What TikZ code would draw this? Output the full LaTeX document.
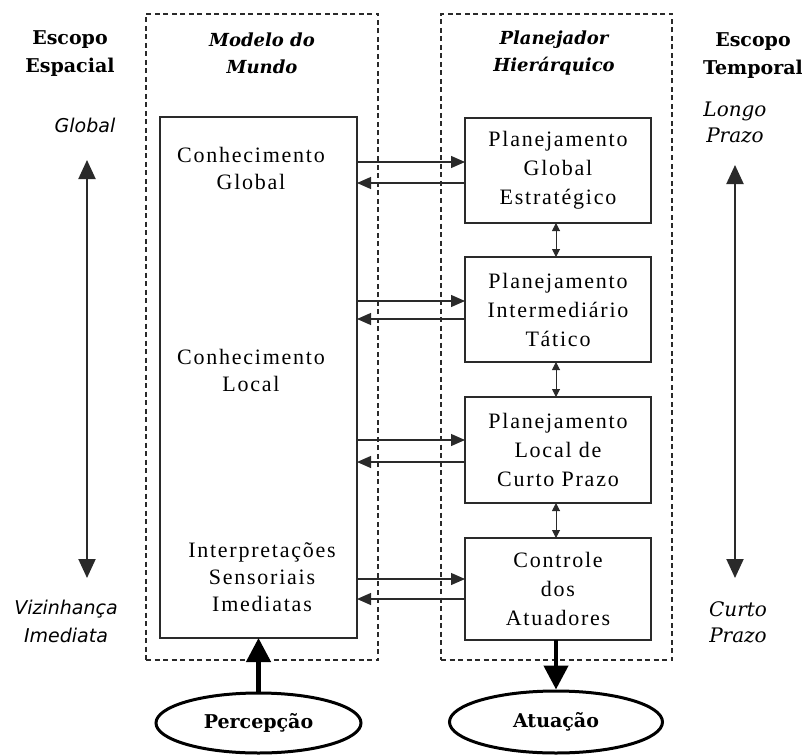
\documentclass[tikz,border=0pt]{standalone}
\usepackage{fontspec}
\setmainfont{Liberation Serif}
\newfontfamily\boxfont[LetterSpace=8]{Liberation Serif}
\newfontfamily\headfont{DejaVu Serif}
\newfontfamily\sidesans{DejaVu Sans}
\newfontfamily\sideserif{DejaVu Serif}
\usetikzlibrary{arrows.meta,shapes.geometric}

\definecolor{ink}{HTML}{2A2A2A}

\tikzset{
  group/.style={draw=ink, line width=1.2pt, dash pattern=on 5pt off 3.5pt,
    inner sep=0pt, outer sep=0pt},
  block/.style={draw=ink, line width=1.3pt, inner sep=0pt, outer sep=0pt,
    align=center, font=\boxfont\fontsize{22}{29}\selectfont},
  inner text/.style={align=center, inner sep=0pt, font=\boxfont\fontsize{22}{27}\selectfont},
  title/.style={align=center, inner sep=0pt,
    font=\headfont\bfseries\itshape\fontsize{18}{27}\selectfont},
  heading/.style={align=center, inner sep=0pt,
    font=\headfont\bfseries\fontsize{19}{28}\selectfont},
  scopesans/.style={align=center, inner sep=0pt,
    font=\sidesans\itshape\fontsize{19}{28}\selectfont},
  scopeserif/.style={align=center, inner sep=0pt,
    font=\sideserif\itshape\fontsize{20}{26}\selectfont},
  io/.style={ellipse, draw=black, line width=3pt, inner sep=0pt,
    font=\headfont\bfseries\fontsize{19}{22}\selectfont},
  link/.style={draw=ink, line width=1.2pt, -{Triangle[width=12pt,length=14pt]}},
  pair/.style={draw=ink, line width=1pt,
    {Triangle[width=8pt,length=8pt]}-{Triangle[width=8pt,length=8pt]}},
  scale arrow/.style={draw=ink, line width=2pt,
    {Triangle[width=17pt,length=19pt]}-{Triangle[width=17pt,length=19pt]}},
  flow/.style={draw=black, line width=4.5pt, -{Triangle[width=24pt,length=24pt]}},
}

\begin{document}
\begin{tikzpicture}[x=1pt,y=-1pt]
\useasboundingbox (0,0) rectangle (802,754);

% dashed groups
\node[group, minimum width=232, minimum height=646] (world) at (262,337) {};
\node[group, minimum width=231, minimum height=646] (planner) at (556.5,337) {};
\node[title] (worldt) at (262,53.5) {Modelo do\\Mundo};
\node[title] (plannert) at (554,53.5) {Planejador\\Hierárquico};

% side headings
\node[heading] (esp) at (70,54) {Escopo\\Espacial};
\node[heading] (tmp) at (753,56) {Escopo\\Temporal};

% world model block and its contents
\node[block, minimum width=197, minimum height=521] (mundo) at (258.5,377.5) {};
\node[inner text] (cg) at (251,168) {Conhecimento\\Global};
\node[inner text] (cl) at (251,370) {Conhecimento\\Local};
\node[inner text] (is) at (262,577) {Interpretações\\Sensoriais\\Imediatas};

% planner levels
\node[block, minimum width=186, minimum height=105] (pg) at (558,170.5)
  {Planejamento\\Global\\Estratégico};
\node[block, minimum width=186, minimum height=105] (pi) at (558,309.5)
  {Planejamento\\Intermediário\\Tático};
\node[block, minimum width=186, minimum height=106] (pl) at (558,450)
  {Planejamento\\Local de\\Curto Prazo};
\node[block, minimum width=186, minimum height=102] (ca) at (558,589)
  {Controle\\dos\\Atuadores};

% links between world model and each planner level
\foreach \n/\u/\d in {pg/8.5/-12.5, pi/8.5/-9.5, pl/10/-12, ca/10/-10} {
  \path ([yshift=\u pt]\n.west) coordinate (in-\n)
        ([yshift=\d pt]\n.west) coordinate (out-\n);
  \draw[link] (mundo.east |- in-\n) -- (in-\n);
  \draw[link] (out-\n) -- (mundo.east |- out-\n);
}

% links between consecutive levels
\draw[pair] ([xshift=-2pt]pg.south) -- ([xshift=-2pt]pi.north);
\draw[pair] ([xshift=-2pt]pi.south) -- ([xshift=-2pt]pl.north);
\draw[pair] ([xshift=-2pt]pl.south) -- ([xshift=-2pt]ca.north);

% spatial scope
\node[scopesans] (glob) at (85,125) {Global};
\node[scopesans] (viz) at (66,621) {Vizinhança\\Imediata};
\coordinate (sp1) at (87,160);
\coordinate (sp2) at (87,578);
\draw[scale arrow] (sp1) -- (sp2);

% temporal scope
\node[scopeserif] (lp) at (735,122) {Longo\\Prazo};
\node[scopeserif] (cp) at (738,622) {Curto\\Prazo};
\coordinate (tp1) at (735,165);
\coordinate (tp2) at (735,578);
\draw[scale arrow] (tp1) -- (tp2);

% perception and actuation
\node[io, minimum width=205, minimum height=60] (perc) at (258.5,723) {Percepção};
\node[io, minimum width=213, minimum height=62] (atu) at (556,722) {Atuação};
\draw[flow] (perc.north) -- (perc.north |- mundo.south);
\draw[flow] (ca.south -| atu.north) -- (atu.north);
\end{tikzpicture}
\end{document}
